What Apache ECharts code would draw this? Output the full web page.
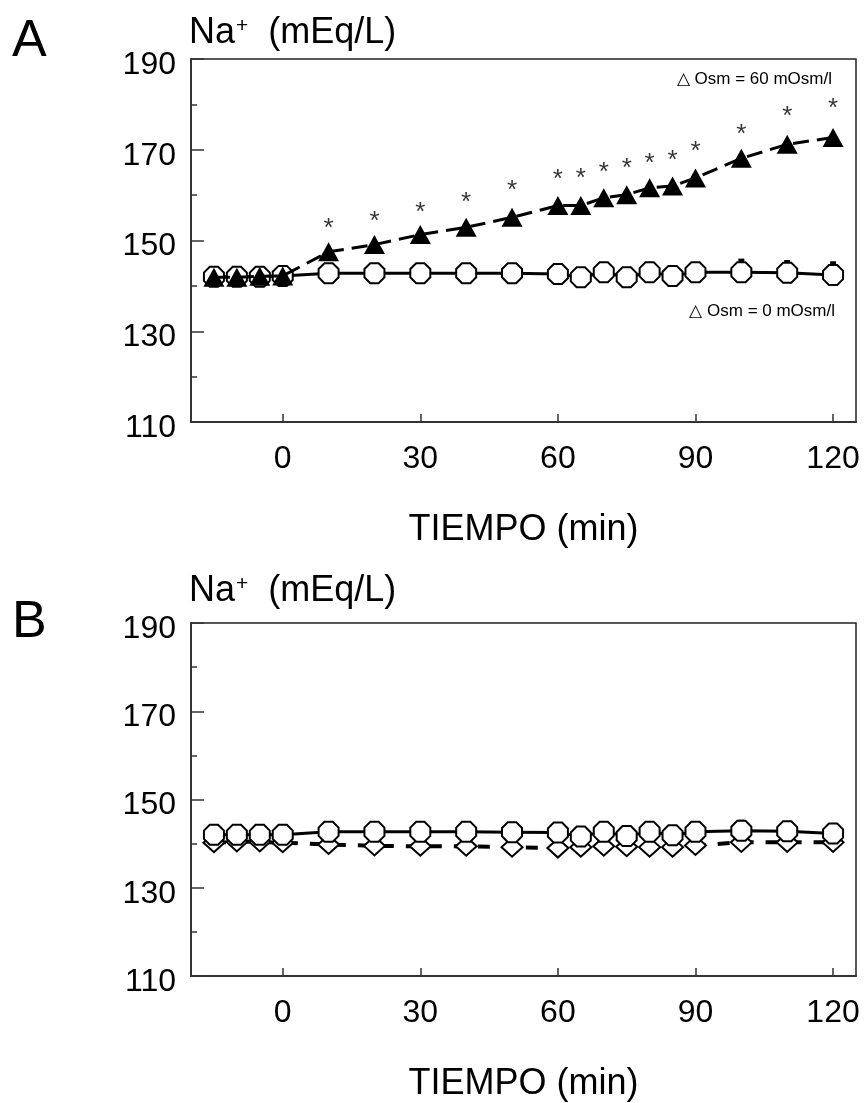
<!DOCTYPE html>
<html><head><meta charset="utf-8">
<script src="https://cdn.jsdelivr.net/npm/echarts@6/dist/echarts.min.js"></script>
<style>html,body{margin:0;padding:0;background:#fff}#c{width:864px;height:1103px}</style>
</head><body><div id="c"></div>
<script>
// ---- data ----
const time = [-15, -10, -5, 0, 10, 20, 30, 40, 50, 60, 65, 70, 75, 80, 85, 90, 100, 110, 120];
// Panel A
const naA_hyper   = [141.9, 141.9, 142.1, 142.2, 147.5, 149.1, 151.3, 152.9, 155.1, 157.7, 157.7, 159.4, 160.1, 161.6, 162.0, 163.8, 168.1, 171.2, 172.7];
const naA_control = [142.0, 142.0, 142.0, 142.2, 142.8, 142.8, 142.8, 142.8, 142.8, 142.6, 141.9, 143.0, 141.9, 143.0, 142.2, 143.0, 143.0, 142.9, 142.4];
const errA_control = [null, null, null, null, null, null, null, null, null, null, null, null, null, null, null, null, 2.9, 2.7, 2.9];
const starA = [null, null, null, null, 153.6, 155.2, 157.3, 159.3, 162.0, 164.4, 164.8, 166.1, 166.9, 167.9, 168.6, 170.7, 174.5, 178.4, 180.2];
// Panel B
const naB_control = [142.0, 142.0, 142.0, 142.0, 142.7, 142.7, 142.7, 142.7, 142.6, 142.5, 141.6, 142.7, 141.7, 142.7, 141.9, 142.7, 142.9, 142.8, 142.3];
const naB_iso     = [140.2, 140.4, 140.4, 140.2, 139.8, 139.5, 139.4, 139.4, 139.2, 139.0, 139.2, 139.4, 139.3, 139.2, 139.2, 139.6, 140.3, 140.3, 140.3];
const errB_control = [null, null, null, null, null, null, null, null, null, null, null, null, null, null, null, null, 2.4, 2.2, 2.1];
// ticks / labels
const xTicks = [0, 30, 60, 90, 120];
const yMajor = [110, 130, 150, 170, 190];
const xName = 'TIEMPO (min)';
const noteA1 = '△ Osm = 60 mOsm/l';
const noteA2 = '△ Osm = 0 mOsm/l';

// ---- helpers ----
const FONT = "'Liberation Sans', Arial, Helvetica, sans-serif";
const OCT = 'path://M-0.414,-1L0.414,-1L1,-0.414L1,0.414L0.414,1L-0.414,1L-1,0.414L-1,-0.414Z';
const pairs = (xs, ys) => xs.map((x, i) => ys[i] == null ? null : [x, ys[i]]).filter(Boolean);
const triples = (xs, ys, es) => xs.map((x, i) => es[i] == null ? null : [x, ys[i], es[i]]).filter(Boolean);

function errRender(params, api) {
  const x = api.value(0), y = api.value(1), e = api.value(2);
  const p0 = api.coord([x, y]), p1 = api.coord([x, y + e]);
  return { type: 'group', children: [
    { type: 'line', shape: { x1: p0[0], y1: p0[1], x2: p1[0], y2: p1[1] }, style: { stroke: '#000', lineWidth: 3 } },
    { type: 'line', shape: { x1: p1[0] - 3, y1: p1[1] + 1, x2: p1[0] + 3, y2: p1[1] + 1 }, style: { stroke: '#000', lineWidth: 3 } }
  ]};
}

const grids = [
  { left: 191, top: 59, width: 665, height: 363 },
  { left: 191, top: 623, width: 665, height: 364 }
].map(g => Object.assign({ show: true, borderColor: '#222', borderWidth: 1.5, backgroundColor: 'transparent' }, g));

function xAxisFor(gi) {
  return {
    type: 'value', gridIndex: gi, min: -20, max: 125,
    axisLine: { show: true, onZero: false, lineStyle: { color: '#333', width: 2 } },
    axisTick: { show: true, inside: true, length: 8, customValues: xTicks, lineStyle: { color: '#333', width: 1.5 } },
    axisLabel: { show: true, customValues: xTicks, fontSize: 32, fontFamily: FONT, color: '#000', margin: 21 },
    splitLine: { show: false },
    name: xName, nameLocation: 'middle', nameGap: 90,
    nameTextStyle: { fontSize: 36, fontFamily: FONT, color: '#000' }
  };
}
function yAxesFor(gi, gap) {
  return [{
    type: 'value', gridIndex: gi, min: 110, max: 190, position: 'left',
    axisLine: { show: true, onZero: false, lineStyle: { color: '#333', width: 2 } },
    axisTick: { show: true, inside: true, length: 13, customValues: yMajor, lineStyle: { color: '#333', width: 1.5 } },
    axisLabel: { show: true, customValues: yMajor, fontSize: 32, fontFamily: FONT, color: '#000', margin: 15,
      verticalAlign: 'top', lineHeight: 12 },
    splitLine: { show: false },
    name: '{a|Na}{s|+}{a|  (mEq/L)}', nameLocation: 'end', nameGap: gap,
    nameTextStyle: { align: 'left', verticalAlign: 'bottom', padding: [0, 0, 0, -2],
      rich: { a: { fontSize: 36, fontFamily: FONT, color: '#000' },
              s: { fontSize: 21, fontFamily: FONT, color: '#000', padding: [0, 0, 14, 1] } } }
  }, {
    type: 'value', gridIndex: gi, min: 110, max: 190, interval: 10, position: 'left',
    axisLine: { show: false, onZero: false },
    axisTick: { show: true, inside: true, length: 6, lineStyle: { color: '#333', width: 1.5 } },
    axisLabel: { show: false }, splitLine: { show: false }
  }];
}

const circleStyle = { color: '#fff', borderColor: '#000', borderWidth: 2 };

const option = {
  animation: false,
  backgroundColor: '#fff',
  grid: grids,
  xAxis: [xAxisFor(0), xAxisFor(1)],
  yAxis: [...yAxesFor(0, 8), ...yAxesFor(1, 14)],
  series: [
    { type: 'custom', xAxisIndex: 0, yAxisIndex: 0, z: 1, renderItem: errRender,
      data: triples(time, naA_control, errA_control) },
    { type: 'line', xAxisIndex: 0, yAxisIndex: 0, z: 2, data: pairs(time, naA_control),
      symbol: OCT, symbolSize: [20, 20], showAllSymbol: true, itemStyle: circleStyle,
      lineStyle: { color: '#000', width: 3 } },
    { type: 'line', xAxisIndex: 0, yAxisIndex: 0, z: 3, data: pairs(time, naA_hyper),
      symbol: 'triangle', symbolSize: [21, 19], showAllSymbol: true,
      itemStyle: { color: '#000', borderColor: '#000', borderWidth: 0 },
      lineStyle: { color: '#000', width: 3, type: [16, 8] } },
    { type: 'scatter', xAxisIndex: 0, yAxisIndex: 0, z: 4, data: pairs(time, starA),
      symbol: 'circle', symbolSize: 1, itemStyle: { color: 'rgba(0,0,0,0)' },
      label: { show: true, position: 'inside', formatter: '*', fontSize: 26, fontFamily: FONT, color: '#000', offset: [0, 5] } },

    { type: 'line', xAxisIndex: 1, yAxisIndex: 2, z: 2, data: pairs(time, naB_iso),
      symbol: 'diamond', symbolSize: [21, 19], showAllSymbol: true, itemStyle: circleStyle,
      lineStyle: { color: '#000', width: 4, type: [12, 12] } },
    { type: 'custom', xAxisIndex: 1, yAxisIndex: 2, z: 3, renderItem: errRender,
      data: triples(time, naB_control, errB_control) },
    { type: 'line', xAxisIndex: 1, yAxisIndex: 2, z: 4, data: pairs(time, naB_control),
      symbol: OCT, symbolSize: [20, 20], showAllSymbol: true, itemStyle: circleStyle,
      lineStyle: { color: '#000', width: 3 } }
  ],
  graphic: [
    { type: 'text', left: 12, top: 16, style: { text: 'A', fontSize: 52, fontFamily: FONT, fill: '#000' } },
    { type: 'text', left: 12, top: 597, style: { text: 'B', fontSize: 52, fontFamily: FONT, fill: '#000' } },
    { type: 'text', right: 32, top: 71, style: { text: noteA1, fontSize: 17, fontFamily: FONT, fill: '#000' } },
    { type: 'text', right: 29, top: 303, style: { text: noteA2, fontSize: 17, fontFamily: FONT, fill: '#000' } }
  ]
};
const chart = echarts.init(document.getElementById('c'), null, { renderer: 'canvas' });
chart.setOption(option);
</script>
</body></html>
